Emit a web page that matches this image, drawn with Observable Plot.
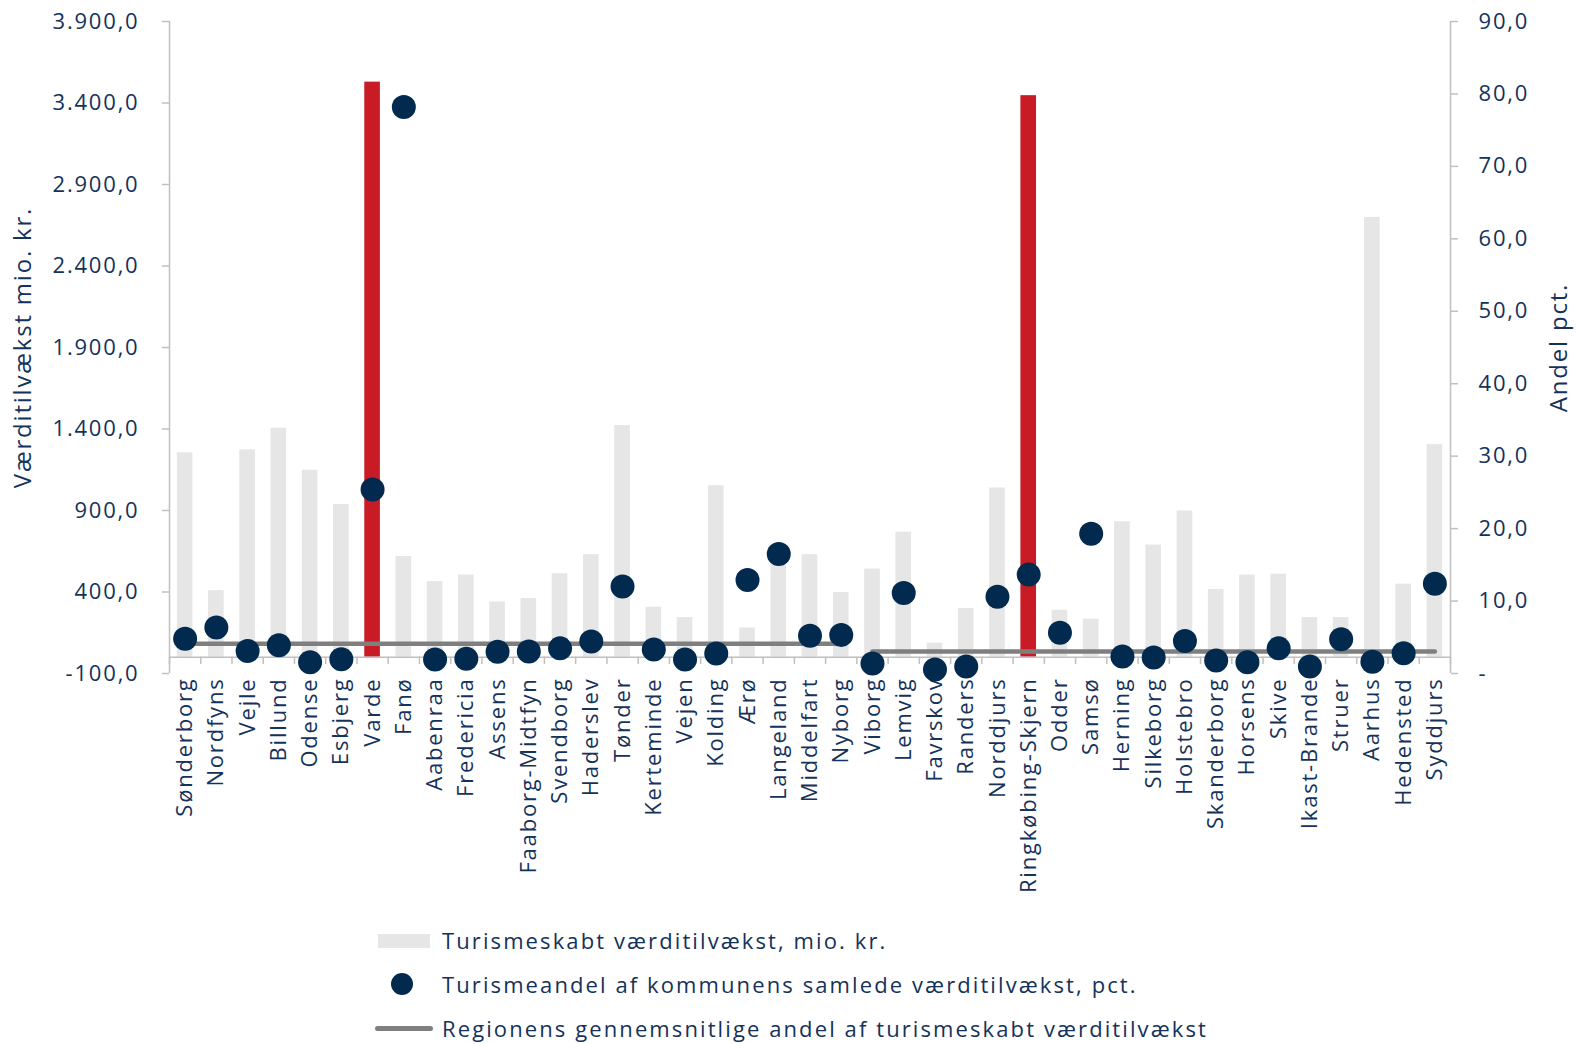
<!DOCTYPE html>
<html><head><meta charset="utf-8">
<script src="https://cdn.jsdelivr.net/npm/d3@7"></script>
<script src="https://cdn.jsdelivr.net/npm/@observablehq/plot@0.6"></script>
<style>
html,body{margin:0;padding:0;background:#fff;overflow:hidden;}
#wrap{position:relative;width:1579px;height:1044px;font-family:"Open Sans",sans-serif;color:#14325a;}
#wrap svg{position:absolute;left:0;top:0;max-width:none;}
.leg{position:absolute;left:0;height:30px;width:1300px;font-size:22px;line-height:30px;letter-spacing:2.1px;}
.leg .txt{position:absolute;left:442px;top:0;white-space:nowrap;}
.leg .sw{position:absolute;}
</style></head><body><div id="wrap"></div>
<script>
const municipalities = ["Sønderborg","Nordfyns","Vejle","Billund","Odense","Esbjerg","Varde","Fanø","Aabenraa","Fredericia","Assens","Faaborg-Midtfyn","Svendborg","Haderslev","Tønder","Kerteminde","Vejen","Kolding","Ærø","Langeland","Middelfart","Nyborg","Viborg","Lemvig","Favrskov","Randers","Norddjurs","Ringkøbing-Skjern","Odder","Samsø","Herning","Silkeborg","Holstebro","Skanderborg","Horsens","Skive","Ikast-Brande","Struer","Aarhus","Hedensted","Syddjurs"];
const valueAdded = [1254, 408, 1272, 1405, 1147, 937, 3528, 618, 464, 504, 339, 360, 512, 629, 1421, 307, 243, 1052, 179, 620, 629, 397, 541, 767, 86, 299, 1038, 3445, 288, 233, 831, 688, 897, 416, 504, 509, 243, 243, 2698, 448, 1304];
const tourismShare = [4.79, 6.36, 3.12, 3.89, 1.56, 1.98, 25.4, 78.2, 1.92, 2.04, 2.99, 3.05, 3.47, 4.43, 12.0, 3.3, 1.92, 2.76, 12.9, 16.5, 5.2, 5.33, 1.38, 11.1, 0.54, 0.97, 10.6, 13.65, 5.62, 19.3, 2.34, 2.22, 4.5, 1.8, 1.56, 3.47, 0.97, 4.74, 1.62, 2.81, 12.4];
const highlighted = ["Varde", "Ringkøbing-Skjern"];
const regions = ["Syddanmark", "Midtjylland"];
const regionCount = [22, 19];
const regionAverage = [4.1, 3.05];
const leftTicks = [-100, 400, 900, 1400, 1900, 2400, 2900, 3400, 3900];
const rightTicks = [0, 10, 20, 30, 40, 50, 60, 70, 80, 90];
const axisTitles = ["Værditilvækst mio. kr.", "Andel pct."];
const legendLabels = ["Turismeskabt værditilvækst, mio. kr.", "Turismeandel af kommunens samlede værditilvækst, pct.", "Regionens gennemsnitlige andel af turismeskabt værditilvækst"];

const TEXT = "#14325a", AXIS = "#c0c0c0", GREY = "#e6e6e6", RED = "#c91b26", NAVY = "#022a4e", LINE = "#7f7f7f";
const FONT = "'Open Sans', sans-serif";
const LS = "1.8px";

const rows = municipalities.map((name, i) => {
  const r = i < regionCount[0] ? 0 : 1;
  return {i, name, value: valueAdded[i], share: tourismShare[i], region: regions[r], avg: regionAverage[r], hl: highlighted.includes(name)};
});
const boundaries = d3.range(-0.5, municipalities.length, 1);
const loc = d3.formatLocale({decimal: ",", thousands: ".", grouping: [3], currency: ["", " kr."], minus: "-"});
const fmt = loc.format(",.1f");

const W = 1579, H = 905;
const common = {
  width: W, height: H, marginTop: 21, marginRight: 129, marginBottom: H - 673, marginLeft: 169,
  style: {fontFamily: FONT, fontSize: "22px", background: "transparent", overflow: "visible", letterSpacing: LS}
};
const xScale = {type: "linear", domain: [-0.5, municipalities.length - 0.5]};

const plotA = Plot.plot({
  ...common,
  x: xScale,
  y: {domain: [-100, 3900]},
  marks: [
    Plot.rectY(rows, {x1: d => d.i - 0.25, x2: d => d.i + 0.25, y1: 0, y2: "value", fill: d => d.hl ? RED : GREY}),
    Plot.ruleY([0], {stroke: AXIS, strokeWidth: 1.5}),
    Plot.ruleX(boundaries, {y1: 0, y2: -45, stroke: AXIS, strokeWidth: 1.5}),
    Plot.ruleX([-0.5], {stroke: AXIS, strokeWidth: 1.5}),
    Plot.axisY({ticks: leftTicks, tickFormat: fmt, tickSize: 7, tickPadding: 23, stroke: AXIS, strokeWidth: 1.5, fill: TEXT, fontSize: 22, label: null}),
    Plot.axisX({ticks: rows.map(d => d.i), tickFormat: i => municipalities[i], tickRotate: -90, tickSize: 0, tickPadding: 4, fill: TEXT, fontSize: 22, label: null}),
    Plot.text([axisTitles[0]], {frameAnchor: "left", textAnchor: "middle", rotate: -90, dx: -146, fill: TEXT, fontSize: 24})
  ]
});

const plotB = Plot.plot({
  ...common,
  x: {...xScale, axis: null},
  y: {domain: [0, 90]},
  marks: [
    Plot.lineY(rows, {x: "i", y: "avg", z: "region", stroke: LINE, strokeWidth: 4.5}),
    Plot.dot(rows, {x: "i", y: "share", r: 12, fill: NAVY}),
    Plot.ruleX([municipalities.length - 0.5], {stroke: AXIS, strokeWidth: 1.5}),
    Plot.axisY({anchor: "right", ticks: rightTicks, tickFormat: v => v === 0 ? "-" : fmt(v), tickSize: 7, tickPadding: 21, stroke: AXIS, strokeWidth: 1.5, fill: TEXT, fontSize: 22, label: null}),
    Plot.text([axisTitles[1]], {frameAnchor: "right", textAnchor: "middle", rotate: -90, dx: 109, fill: TEXT, fontSize: 24})
  ]
});

const wrap = document.getElementById("wrap");
wrap.appendChild(plotA);
wrap.appendChild(plotB);

const legendY = [940, 984, 1028];
legendLabels.forEach((label, k) => {
  const row = document.createElement("div");
  row.className = "leg";
  row.style.top = (legendY[k] - 15) + "px";
  const sw = document.createElement("div");
  sw.className = "sw";
  if (k === 0) Object.assign(sw.style, {left: "378px", top: "9px", width: "52px", height: "14px", background: GREY});
  if (k === 1) Object.assign(sw.style, {left: "391px", top: "4px", width: "22px", height: "22px", borderRadius: "50%", background: NAVY});
  if (k === 2) Object.assign(sw.style, {left: "375px", top: "13px", width: "58px", height: "4.5px", borderRadius: "3px", background: LINE});
  const t = document.createElement("div");
  t.className = "txt";
  t.textContent = label;
  row.appendChild(sw);
  row.appendChild(t);
  wrap.appendChild(row);
});
</script></body></html>
